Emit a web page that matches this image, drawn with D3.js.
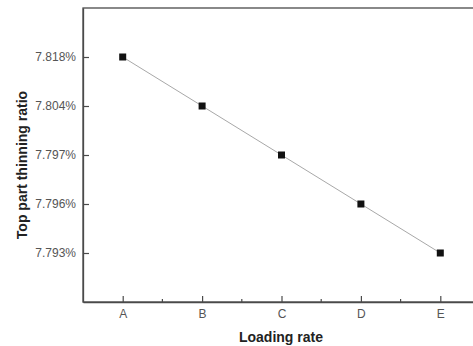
<!DOCTYPE html>
<html>
<head>
<meta charset="utf-8">
<script src="https://cdn.jsdelivr.net/npm/d3@7"></script>
<style>
  html, body { margin: 0; padding: 0; background: #fff; }
  svg { display: block; }
  text { font-family: "Liberation Sans", Arial, sans-serif; }
</style>
</head>
<body>
<svg id="chart" width="473" height="346"></svg>
<script>
// Loading-rate categories and the measured top-part thinning ratio (%)
const categories = ["A", "B", "C", "D", "E"];
const ratioValues = [7.818, 7.804, 7.797, 7.796, 7.793];
// Tick labels on the ratio axis (evenly spaced, top to bottom)
const yTickLabels = ["7.818%", "7.804%", "7.797%", "7.796%", "7.793%"];

const plot = { left: 83, top: 8, right: 480, bottom: 302 };

const svg = d3.select("#chart");

const x = d3.scalePoint()
  .domain(categories)
  .range([plot.left, plot.right])
  .padding(0.5);

const y = d3.scalePoint()
  .domain(yTickLabels)
  .range([plot.top, plot.bottom])
  .padding(1);

const fmt = v => d3.format(".3f")(v) + "%";

const axisColor = "#4a4a4a";
const labelColor = "#555";

// Frame
svg.append("rect")
  .attr("x", plot.left).attr("y", plot.top)
  .attr("width", plot.right - plot.left).attr("height", plot.bottom - plot.top)
  .attr("fill", "none").attr("stroke", axisColor).attr("stroke-width", 1.3);

// X axis (ticks pointing inward)
const xAxis = svg.append("g")
  .attr("transform", `translate(0,${plot.bottom})`)
  .call(d3.axisBottom(x).tickSizeInner(-6).tickSizeOuter(0).tickPadding(7));
xAxis.select(".domain").attr("stroke", axisColor).attr("stroke-width", 1.3);
xAxis.selectAll(".tick line").attr("stroke", axisColor).attr("stroke-width", 1.2);
xAxis.selectAll(".tick text").attr("fill", labelColor).attr("font-size", 12);

// Minor ticks halfway between categories
const minorX = categories.slice(1).map((c, i) => (x(categories[i]) + x(c)) / 2);
svg.append("g").selectAll("line").data(minorX).join("line")
  .attr("x1", d => d).attr("x2", d => d)
  .attr("y1", plot.bottom).attr("y2", plot.bottom - 3)
  .attr("stroke", axisColor).attr("stroke-width", 1.2);

// Y axis (ticks pointing inward)
const yAxis = svg.append("g")
  .attr("transform", `translate(${plot.left},0)`)
  .call(d3.axisLeft(y).tickSizeInner(-6).tickSizeOuter(0).tickPadding(7));
yAxis.select(".domain").attr("stroke", axisColor).attr("stroke-width", 1.3);
yAxis.selectAll(".tick line").attr("stroke", axisColor).attr("stroke-width", 1.2);
yAxis.selectAll(".tick text").attr("fill", labelColor).attr("font-size", 12);

// Connecting line
const line = d3.line()
  .x((d, i) => x(categories[i]))
  .y(d => y(fmt(d)));
svg.append("path")
  .datum(ratioValues)
  .attr("d", line)
  .attr("fill", "none")
  .attr("stroke", "#a8a8a8")
  .attr("stroke-width", 1);

// Square markers
const ms = 7;
svg.append("g").selectAll("rect").data(ratioValues).join("rect")
  .attr("x", (d, i) => x(categories[i]) - ms / 2)
  .attr("y", d => y(fmt(d)) - ms / 2)
  .attr("width", ms).attr("height", ms)
  .attr("fill", "#111");

// Axis titles
svg.append("text")
  .attr("x", 281).attr("y", 342)
  .attr("text-anchor", "middle")
  .attr("font-size", 14).attr("font-weight", "bold").attr("fill", "#222")
  .text("Loading rate");

svg.append("text")
  .attr("transform", `translate(27,${(plot.top + plot.bottom) / 2 + 10}) rotate(-90)`)
  .attr("text-anchor", "middle")
  .attr("font-size", 14).attr("font-weight", "bold").attr("fill", "#222")
  .text("Top part thinning ratio");
</script>
</body>
</html>
